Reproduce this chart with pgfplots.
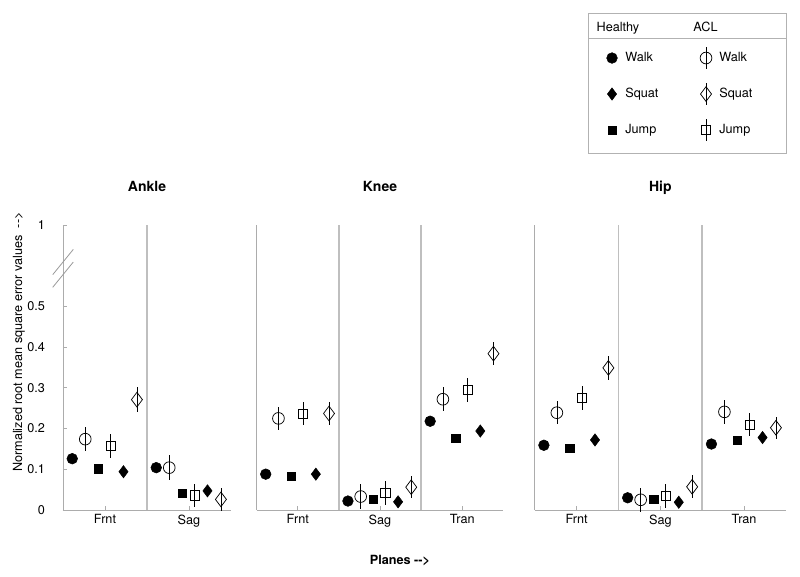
\documentclass[border=0pt]{standalone}
\usepackage{fontspec}
\setmainfont{TeX Gyre Heros}
\usepackage{pgfplots}
\usepackage{pgfplotstable}
\pgfplotsset{compat=1.18}

% values; e* = half length of the ACL error bars
\pgfplotstableread{
p hw    aw    ew    hj    aj    ej    hs    as    es
1 0.126 0.174 0.030 0.101 0.157 0.030 0.094 0.271 0.030
2 0.104 0.104 0.030 0.041 0.036 0.028 0.047 0.026 0.028
}\ankle
\pgfplotstableread{
p hw    aw    ew    hj    aj    ej    hs    as    es
1 0.088 0.225 0.029 0.082 0.237 0.029 0.088 0.237 0.028
2 0.022 0.033 0.030 0.026 0.041 0.029 0.020 0.056 0.027
3 0.218 0.272 0.029 0.177 0.294 0.029 0.194 0.384 0.029
}\knee
\pgfplotstableread{
p hw    aw    ew    hj    aj    ej    hs    as    es
1 0.159 0.239 0.029 0.151 0.275 0.029 0.172 0.349 0.029
2 0.030 0.025 0.030 0.026 0.035 0.029 0.019 0.057 0.028
3 0.162 0.241 0.029 0.172 0.210 0.029 0.178 0.202 0.027
}\hip

% legend marks: open marker with the error bar through it
\pgfdeclareplotmark{lego}{%
  \pgfpathcircle{\pgfpointorigin}{\pgfplotmarksize}\pgfusepathqstroke
  \pgfpathmoveto{\pgfqpoint{0pt}{-8pt}}\pgfpathlineto{\pgfqpoint{0pt}{8pt}}\pgfusepathqstroke}
\pgfdeclareplotmark{legs}{%
  \pgfpathrectanglecorners{\pgfqpoint{-\pgfplotmarksize}{-\pgfplotmarksize}}{\pgfqpoint{\pgfplotmarksize}{\pgfplotmarksize}}\pgfusepathqstroke
  \pgfpathmoveto{\pgfqpoint{0pt}{-8pt}}\pgfpathlineto{\pgfqpoint{0pt}{8pt}}\pgfusepathqstroke}
\pgfdeclareplotmark{legd}{%
  \pgfpathmoveto{\pgfqpoint{0pt}{\pgfplotmarksize}}
  \pgfpathlineto{\pgfqpoint{.75\pgfplotmarksize}{0pt}}
  \pgfpathlineto{\pgfqpoint{0pt}{-\pgfplotmarksize}}
  \pgfpathlineto{\pgfqpoint{-.75\pgfplotmarksize}{0pt}}
  \pgfpathclose\pgfusepathqstroke
  \pgfpathmoveto{\pgfqpoint{0pt}{-8pt}}\pgfpathlineto{\pgfqpoint{0pt}{8pt}}\pgfusepathqstroke}

\newcommand{\arr}{\mbox{-}\mbox{-}>}

\pgfplotsset{
  panel/.style={
    scale only axis, height=213.75pt,
    ymin=0, ymax=0.7, clip=false,
    axis x line=bottom, axis y line=left,
    axis line style={gray!65, line width=0.7pt, -},
    tick align=inside, major tick length=3pt,
    tick style={gray!65, line width=0.6pt},
    ticklabel style={font=\fontsize{9.5}{11}\selectfont},
    /pgf/number format/assume math mode=true,
    extra x tick labels={},
    extra x tick style={major tick length=0pt, grid=major,
      major grid style={gray!50, line width=1.1pt}},
    title style={font=\bfseries\fontsize{10.5}{12}\selectfont,
      anchor=base, yshift=19.5pt},
  },
  hplot/.style={only marks, black, forget plot},
  aplot/.style={only marks, black, forget plot, mark options={line width=0.55pt},
    /pgfplots/error bars/y dir=both, /pgfplots/error bars/y explicit,
    /pgfplots/error bars/error mark=none,
    /pgfplots/error bars/error bar style={black, line width=0.55pt}},
  headimg/.style={legend image code/.code={\path[draw=none, fill=none] (0pt,-9pt) rectangle (0pt,9pt);}},
}

% order within a plane: walk, jump, squat (healthy then ACL)
\newcommand{\panelplots}[1]{%
  \addplot[hplot, mark=*, mark size=4pt] table[x expr=\thisrow{p}-0.39, y=hw] {#1};
  \addplot[mark=o, mark size=4.4pt, aplot] table[x expr=\thisrow{p}-0.235, y=aw, y error=ew] {#1};
  \addplot[hplot, mark=square*, mark size=3.1pt] table[x expr=\thisrow{p}-0.08, y=hj] {#1};
  \addplot[mark=square, mark size=3.4pt, aplot] table[x expr=\thisrow{p}+0.065, y=aj, y error=ej] {#1};
  \addplot[hplot, mark=diamond*, mark size=4.6pt] table[x expr=\thisrow{p}+0.22, y=hs] {#1};
  \addplot[mark=diamond, mark size=5.5pt, aplot] table[x expr=\thisrow{p}+0.38, y=as, y error=es] {#1};
}

\begin{document}
\begin{tikzpicture}
\useasboundingbox (0,0) rectangle (600pt,432.75pt);

% Ankle
\begin{axis}[panel, at={(47.25pt,50.25pt)}, width=126pt,
    xmin=0.5, xmax=2.5, xtick={1,2}, xticklabels={Frnt,Sag},
    extra x ticks={1.5},
    ytick={0,0.1,0.2,0.3,0.4,0.5,0.7},
    yticklabels={0,0.1,0.2,0.3,0.4,0.5,1},
    yticklabel style={xshift=-10pt},
    title={Ankle}]
\panelplots{\ankle}
% axis break marks
\draw[gray!80, line width=0.6pt] ([xshift=-7.7pt]axis cs:0.5,0.578) -- ([xshift=7.7pt]axis cs:0.5,0.640);
\draw[gray!80, line width=0.6pt] ([xshift=-7.7pt]axis cs:0.5,0.547) -- ([xshift=7.7pt]axis cs:0.5,0.609);
\node[rotate=90, font=\fontsize{9.5}{11}\selectfont] at (axis description cs:-0.262,0.589)
  {Normalized root mean square error values\ \ \arr};
\end{axis}

% Knee
\begin{axis}[panel, at={(192.5pt,50.25pt)}, width=185pt,
    xmin=0.5, xmax=3.5, xtick={1,2,3}, xticklabels={Frnt,Sag,Tran},
    extra x ticks={1.5,2.5}, ytick=\empty,
    title={Knee}]
\panelplots{\knee}
\node[font=\bfseries\fontsize{9.5}{11}\selectfont] at (axis description cs:0.581,-0.178)
  {Planes \arr};
\end{axis}

% Hip, with the legend
\begin{axis}[panel, at={(401pt,50.25pt)}, width=188.5pt,
    xmin=0.5, xmax=3.5, xtick={1,2,3}, xticklabels={Frnt,Sag,Tran},
    extra x ticks={1.5,2.5}, ytick=\empty,
    title={Hip},
    legend columns=2,
    legend image code/.code={\path[draw=none, fill=none] (-9pt,-13.5pt) rectangle (9pt,13.5pt);
      \draw[#1] plot coordinates {(0pt,0pt)};},
    legend style={draw=none, fill=none, at={(0.26,1.7333)}, anchor=north west,
      inner sep=0pt, outer sep=0pt, column sep=0pt, row sep=0pt,
      font=\fontsize{9.5}{11}\selectfont,
      nodes={inner sep=1pt, text width=50.5pt, align=left}}]
\panelplots{\hip}
\addlegendimage{headimg}
\addlegendentry{\hspace*{-21.5pt}Healthy}
\addlegendimage{headimg}
\addlegendentry{\hspace*{-19.5pt}ACL}
\addlegendimage{black, mark=*, mark size=4pt}
\addlegendentry{Walk}
\addlegendimage{black, mark=lego, mark size=4.4pt, line width=0.55pt}
\addlegendentry{Walk}
\addlegendimage{black, mark=diamond*, mark size=4.6pt}
\addlegendentry{Squat}
\addlegendimage{black, mark=legd, mark size=5.5pt, line width=0.55pt}
\addlegendentry{Squat}
\addlegendimage{black, mark=square*, mark size=3.1pt}
\addlegendentry{Jump}
\addlegendimage{black, mark=legs, mark size=3.4pt, line width=0.55pt}
\addlegendentry{Jump}
\end{axis}

% legend frame and header rule
\draw[gray!60, line width=0.6pt] (441pt,318pt) rectangle (589.5pt,423pt);
\draw[gray!60, line width=0.6pt] (441pt,404.25pt) -- (589.5pt,404.25pt);
\end{tikzpicture}
\end{document}
